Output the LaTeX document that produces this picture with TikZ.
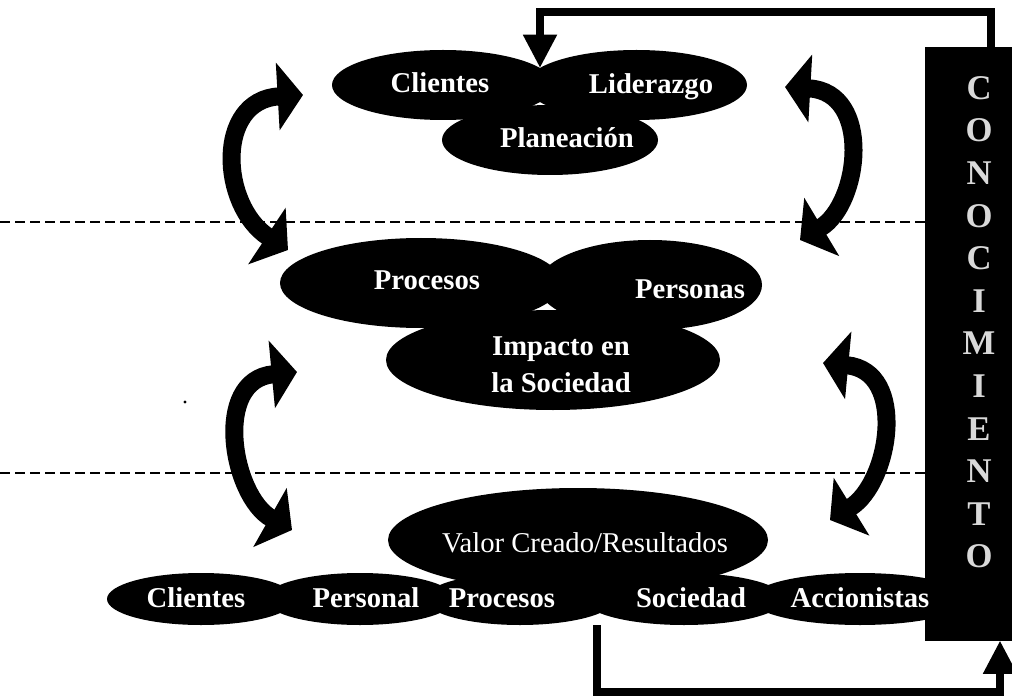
\documentclass[tikz,border=0pt]{standalone}
\usepackage{fontspec}
\setmainfont{Liberation Serif}
\usetikzlibrary{shapes.geometric,arrows.meta}

\begin{document}
\begin{tikzpicture}[x=0.75pt,y=-0.75pt,
  blob/.style 2 args={ellipse, fill=black, draw=none, inner sep=0pt,
    minimum width=#1*1.5pt, minimum height=#2*1.5pt},
  lbl/.style={text=white, inner sep=0pt, anchor=base,
    font=\fontsize{21.5}{27.75}\selectfont\bfseries},
  lblplain/.style={text=white, inner sep=0pt, anchor=base,
    font=\fontsize{21.5}{27.75}\selectfont},
  barletter/.style={text=white!85!black, inner sep=0pt,
    font=\fontsize{26}{30}\selectfont\bfseries},
  divider/.style={black, line width=1.2pt, dash pattern=on 7.5pt off 3.75pt},
  swing/.style={line width=13.5pt, black,
    {Triangle[width=50pt,length=19pt]}-{Triangle[width=50pt,length=19pt]}},
  feedback/.style={line width=6pt, black,
    -{Triangle[width=24pt,length=25pt]}}
]
\useasboundingbox (0,0) rectangle (1012,698);

% knowledge bar on the right
\node[fill=black, draw=none, inner sep=0pt, anchor=north west,
      minimum width=87*0.75pt, minimum height=593*0.75pt] (bar) at (925,47) {};

% level separators
\draw[divider] (0,222) -- (925,222);
\draw[divider] (0,473) -- (925,473);

% top level
\node[blob={111}{35}]   (eCli)  at (443,85)  {};
\node[blob={110.5}{35}] (eLid)  at (636.5,85) {};
\node[blob={108}{35}]   (ePla)  at (550,140) {};

% middle level
\node[blob={141}{45}] (eProc) at (421,283) {};
\node[blob={112}{45}] (ePers) at (650,285) {};
\node[blob={167}{50}] (eImp)  at (553,360) {};

% results level
\node[blob={190}{52}] (eVal)  at (578,540) {};
\node[blob={94}{26}]  (eCliB) at (201,599) {};
\node[blob={95}{26}]  (ePerB) at (360,599) {};
\node[blob={95}{26}]  (eProB) at (520,599) {};
\node[blob={100}{26}] (eSoc)  at (684,599) {};
\node[blob={109}{26}] (eAcc)  at (860,599) {};

% bar drawn again so that it covers the last ellipse
\fill[black] (bar.north west) rectangle (bar.south east);

% labels
\node[lbl] (tCli)  at (440,93)  {Clientes};
\node[lbl] (tLid)  at (651,94)  {Liderazgo};
\node[lbl] (tPla)  at (567,148) {Planeación};
\node[lbl] (tProc) at (427,290) {Procesos};
\node[lbl] (tPers) at (690,298) {Personas};
\node[lbl, anchor=center, align=center] (tImp) at (561,365) {Impacto en\\la Sociedad};
\node[lblplain] (tVal) at (585,552) {Valor Creado/Resultados};
\node[lbl] (tCliB) at (196,607) {Clientes};
\node[lbl] (tPerB) at (366,607) {Personal};
\node[lbl] (tProB) at (502,607) {Procesos};
\node[lbl] (tSoc)  at (691,607) {Sociedad};
\node[lbl] (tAcc)  at (860,607) {Accionistas};

% letters of the bar
\foreach \ch [count=\i from 0] in {C,O,N,O,C,I,M,I,E,N,T,O}
  \node[barletter] (k\i) at (979,88+42.6*\i) {\ch};

% two-way links between levels
\coordinate (aTL1) at (303,95);  \coordinate (aTL2) at (288,250);
\coordinate (aTR1) at (785,87);  \coordinate (aTR2) at (800,240);
\coordinate (aML1) at (297,372); \coordinate (aML2) at (292,530);
\coordinate (aMR1) at (823,363); \coordinate (aMR2) at (830,520);
\draw[swing] (aTL1) .. controls (215,100) and (220,205) .. (aTL2);
\draw[swing] (aTR1) .. controls (873,92)  and (860,204) .. (aTR2);
\draw[swing] (aML1) .. controls (212,380) and (232,496) .. (aML2);
\draw[swing] (aMR1) .. controls (908,371) and (890,483) .. (aMR2);

% feedback loop through the bar
\coordinate (fbTopX) at (991,0);
\coordinate (fbBotX) at (1000,0);
\coordinate (inTop)  at (540,68);
\coordinate (outBot) at (597,625);
\draw[feedback] (bar.north -| fbTopX) -- ++(0,-35) -| (inTop);
\draw[feedback] (outBot) -- ++(0,67) -| (bar.south -| fbBotX);

% speck
\fill[black] (185,402) circle (1.2pt);
\end{tikzpicture}
\end{document}
